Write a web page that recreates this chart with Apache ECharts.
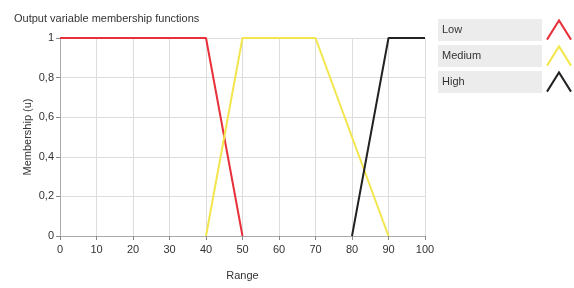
<!DOCTYPE html>
<html>
<head>
<meta charset="utf-8">
<script src="https://cdn.jsdelivr.net/npm/echarts@6/dist/echarts.min.js"></script>
<style>
  html, body { margin: 0; padding: 0; background: #fff; }
  #chart { width: 574px; height: 288px; }
</style>
</head>
<body>
<div id="chart"></div>
<script>
// membership function breakpoints
const setNames = ['Low', 'Medium', 'High']
const lowX = [0, 40, 50]
const lowY = [1, 1, 0]
const mediumX = [40, 50, 70, 90]
const mediumY = [0, 1, 1, 0]
const highX = [80, 90, 100]
const highY = [0, 1, 1]
const xTicks = [0, 10, 20, 30, 40, 50, 60, 70, 80, 90, 100]
const yTicks = [0, 0.2, 0.4, 0.6, 0.8, 1]

const colors = ['#e8303a', '#f2e64c', '#222222']
const font = 'Liberation Sans'

const toPoints = (xs, ys) => xs.map((x, i) => [x, ys[i]])

const chart = echarts.init(document.getElementById('chart'))

const triangleIcon = 'path://M0,20 L10,4 L20,20'

chart.setOption({
  animation: false,
  title: {
    text: 'Output variable membership functions',
    left: 9,
    top: 8,
    textStyle: { fontFamily: font, fontSize: 11, fontWeight: 'normal', color: '#333' }
  },
  grid: { left: 60, right: 149, top: 38, bottom: 52 },
  legend: {
    orient: 'vertical',
    left: 433,
    top: 14,
    align: 'right',
    itemGap: 4,
    itemWidth: 24,
    itemHeight: 20,
    icon: triangleIcon,
    data: setNames.map((n, i) => ({
      name: n,
      itemStyle: { color: 'transparent', borderColor: colors[i], borderWidth: 2 }
    })),
    formatter: name => `{t|${name}}`,
    textStyle: {
      fontFamily: font,
      fontSize: 11,
      color: '#333',
      rich: {
        t: {
          fontFamily: font,
          fontSize: 11,
          color: '#333',
          align: 'left',
          backgroundColor: '#ececec',
          width: 96,
          height: 22,
          lineHeight: 22,
          padding: [0, 4]
        }
      }
    }
  },
  xAxis: {
    type: 'value',
    min: 0,
    max: 100,
    interval: 10,
    name: 'Range',
    nameLocation: 'middle',
    nameGap: 34,
    nameTextStyle: { fontFamily: font, fontSize: 11, color: '#333' },
    axisLine: { lineStyle: { color: '#aaa' } },
    axisTick: { show: true, length: 4, lineStyle: { color: '#888' } },
    axisLabel: { fontFamily: font, fontSize: 11, color: '#333', margin: 8 },
    splitLine: { show: true, lineStyle: { color: '#ddd' } }
  },
  yAxis: {
    type: 'value',
    min: 0,
    max: 1,
    interval: 0.2,
    name: 'Membership (u)',
    nameLocation: 'middle',
    nameGap: 27,
    nameMoveOverlap: false,
    nameTextStyle: { fontFamily: font, fontSize: 11, color: '#333' },
    axisLine: { show: true, lineStyle: { color: '#aaa' } },
    axisTick: { show: true, length: 4, lineStyle: { color: '#888' } },
    axisLabel: {
      fontFamily: font,
      fontSize: 11,
      color: '#333',
      margin: 6,
      formatter: v => String(Math.round(v * 10) / 10).replace('.', ',')
    },
    splitLine: { show: true, lineStyle: { color: '#ddd' } }
  },
  series: [
    { name: 'Low', type: 'line', data: toPoints(lowX, lowY) },
    { name: 'Medium', type: 'line', data: toPoints(mediumX, mediumY) },
    { name: 'High', type: 'line', data: toPoints(highX, highY) }
  ].map((s, i) => ({
    ...s,
    showSymbol: false,
    symbol: 'none',
    lineStyle: { color: colors[i], width: 2 },
    itemStyle: { color: colors[i] }
  }))
})
</script>
</body>
</html>
